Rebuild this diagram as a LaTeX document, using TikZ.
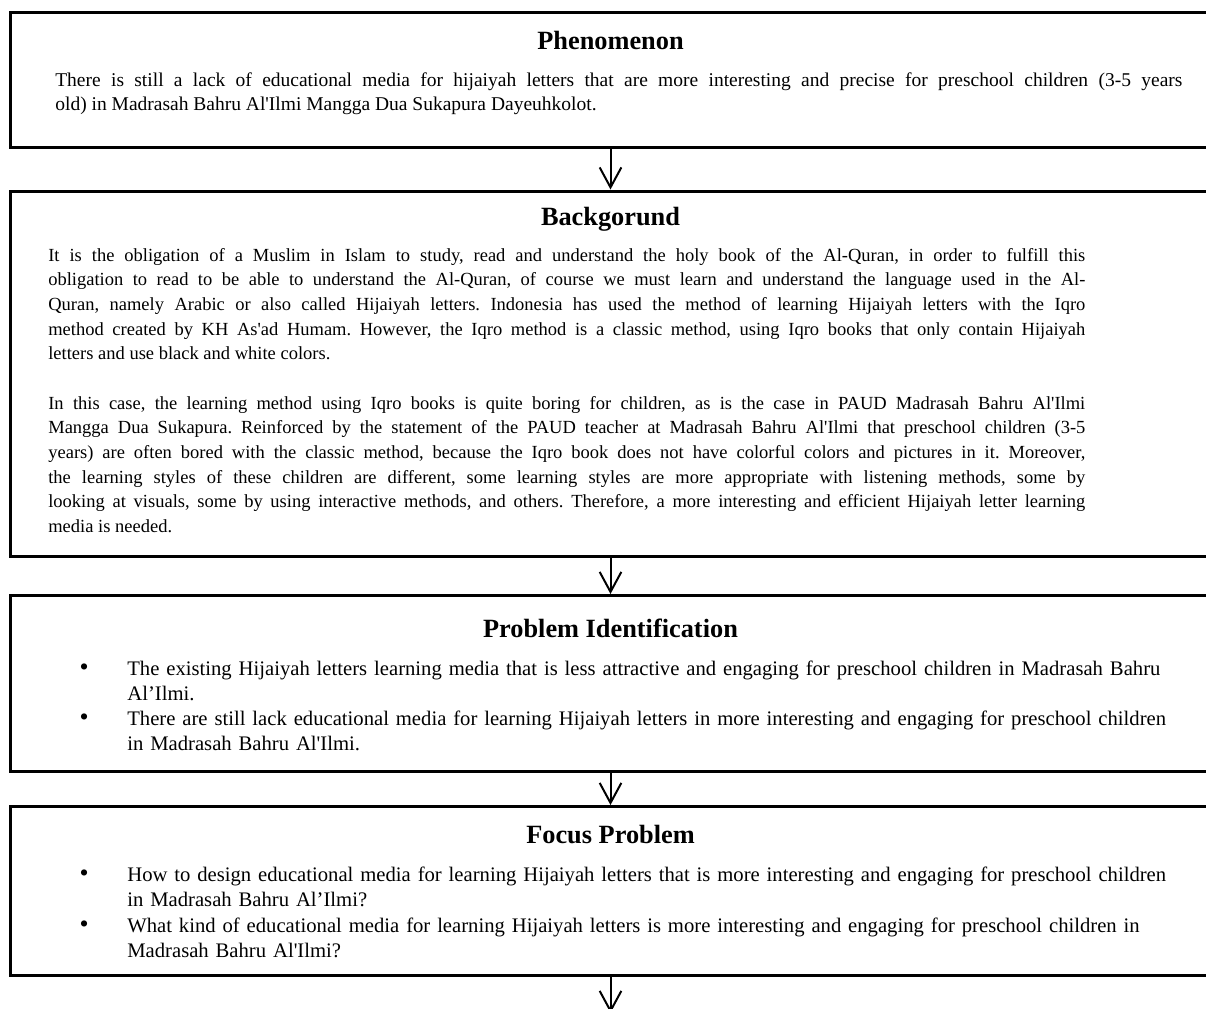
\documentclass[tikz,border=0pt]{standalone}
\usepackage{fontspec}
\usepackage{graphicx}
\setmainfont{Liberation Serif}[Ligatures=TeXOff]
\usetikzlibrary{arrows.meta}
\setlength{\parindent}{0pt}
\setlength{\parskip}{0pt}
\frenchspacing
\tikzset{
  box/.style={draw, line width=1.8pt, minimum width=720pt, inner sep=0pt},
  flow/.style={line width=1.2pt, -{Straight Barb[length=12pt, width=13pt]}},
  head/.style={anchor=base, inner sep=0pt, font=\fontsize{15.8}{18}\selectfont\bfseries},
  body/.style args={#1/#2}{anchor=north west, inner sep=0pt, font=\fontsize{#1}{#2}\selectfont},
  body/.default=11.1/14.8
}
\newcommand{\bitem}[1]{\noindent\hangindent=28.2pt\hangafter=1\makebox[28.2pt][l]{\hspace{-0.4pt}\scalebox{1.25}{\textbullet}}\strut#1\par}

\begin{document}
\begin{tikzpicture}[x=0.6pt, y=-0.6pt]
\useasboundingbox (0,0) rectangle (1206,1008);
\clip (0,0) rectangle (1206,1008);

%boxes
\node[box, minimum height=80.7pt] (phen) at (610.5,79.75) {};
\node[box, minimum height=219pt] (bg) at (610.5,373.5) {};
\node[box, minimum height=105.3pt] (ident) at (610.5,683.25) {};
\node[box, minimum height=101.4pt] (focus) at (610.5,891) {};
\coordinate (next) at (610.5,1013);

%titles
\node[head] (phenhead) at (610.5,49) {Phenomenon};
\node[head] (bghead) at (610.5,225) {Backgorund};
\node[head] (identhead) at (610.5,637) {Problem Identification};
\node[head] (focushead) at (610.5,843) {Focus Problem};

%texts
\node[body=11.7/14, text width=676.2pt, align=justify] (phentext) at (55,70) {\strut There is still a lack of educational media for hijaiyah letters that are more interesting and precise for preschool children (3-5 years\linebreak old) in Madrasah Bahru Al'Ilmi Mangga Dua Sukapura Dayeuhkolot.};
\node[body, text width=622.2pt, align=justify] (bgtext) at (48,243.7) {\strut It is the obligation of a Muslim in Islam to study, read and understand the holy book of the Al-Quran, in order to fulfill this\linebreak obligation to read to be able to understand the Al-Quran, of course we must learn and understand the language used in the Al-\linebreak Quran, namely Arabic or also called Hijaiyah letters. Indonesia has used the method of learning Hijaiyah letters with the Iqro\linebreak method created by KH As'ad Humam. However, the Iqro method is a classic method, using Iqro books that only contain Hijaiyah\linebreak letters and use black and white colors.\par
\strut\par
In this case, the learning method using Iqro books is quite boring for children, as is the case in PAUD Madrasah Bahru Al'Ilmi\linebreak Mangga Dua Sukapura. Reinforced by the statement of the PAUD teacher at Madrasah Bahru Al'Ilmi that preschool children (3-5\linebreak years) are often bored with the classic method, because the Iqro book does not have colorful colors and pictures in it. Moreover,\linebreak the learning styles of these children are different, some learning styles are more appropriate with listening methods, some by\linebreak looking at visuals, some by using interactive methods, and others. Therefore, a more interesting and efficient Hijaiyah letter learning\linebreak media is needed.};
\node[body=12.4/15, text width=660pt, align=left] (identtext) at (80,658) {\bitem{The existing Hijaiyah letters learning media that is less attractive and engaging for preschool children in Madrasah Bahru\newline Al’Ilmi.}
\bitem{There are still lack educational media for learning Hijaiyah letters in more interesting and engaging for preschool children\newline in Madrasah Bahru Al'Ilmi.}};
\node[body=12.4/15.3, text width=660pt, align=left] (focustext) at (80,863) {\bitem{How to design educational media for learning Hijaiyah letters that is more interesting and engaging for preschool children\newline in Madrasah Bahru Al’Ilmi?}
\bitem{What kind of educational media for learning Hijaiyah letters is more interesting and engaging for preschool children in\newline Madrasah Bahru Al'Ilmi?}};

%arrows
\foreach \a/\b in {phen/bg, bg/ident, ident/focus} {\draw[flow] (\a.south) -- (\b.north);}
\draw[flow] (focus.south) -- (next);
\end{tikzpicture}
\end{document}
